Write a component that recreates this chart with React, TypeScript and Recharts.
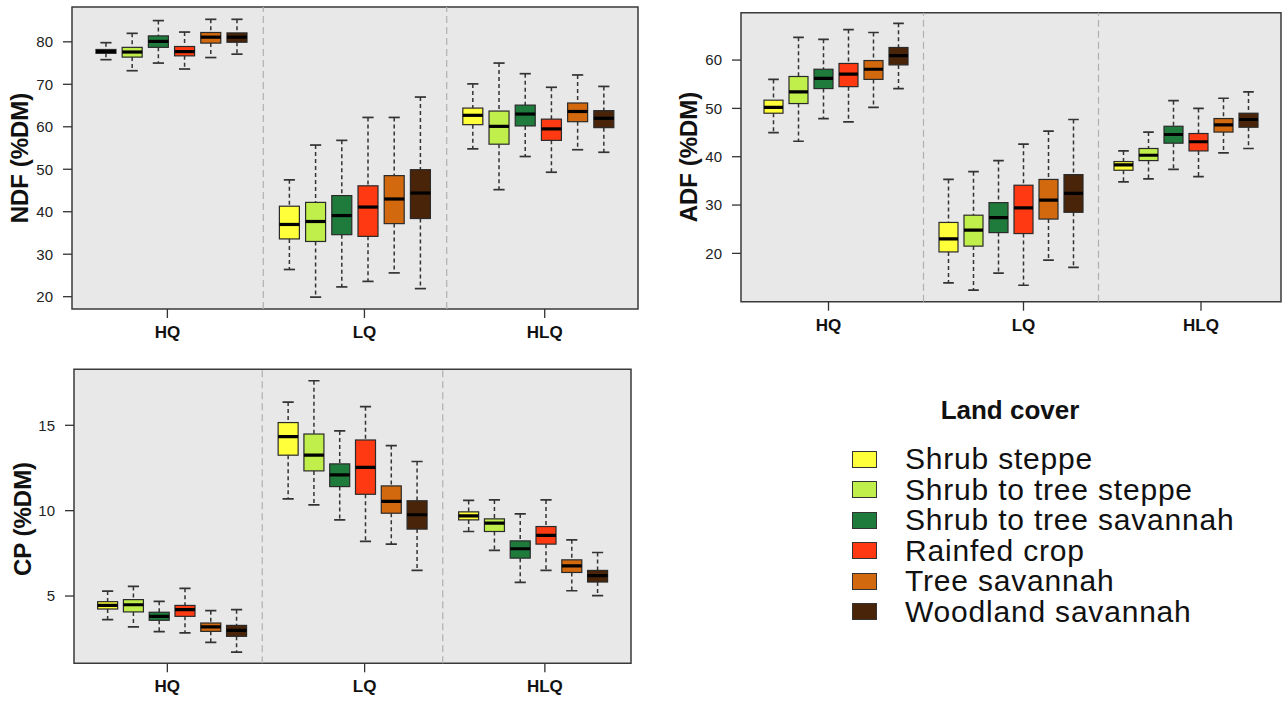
import { ComposedChart, Bar, XAxis, YAxis, CartesianGrid, ReferenceLine, ReferenceArea, Label } from "recharts";

const LAND_COVER = [
  "Shrub steppe",
  "Shrub to tree steppe",
  "Shrub to tree savannah",
  "Rainfed crop",
  "Tree savannah",
  "Woodland savannah",
];
const COLORS = ["#FFFF3A", "#C0EE4A", "#1E7B3C", "#FF3A12", "#D2690E", "#4A2408"];
const QUALITY = ["HQ", "LQ", "HLQ"];
const GROUP_POSITIONS = [
  [1, 2, 3, 4, 5, 6],
  [8, 9, 10, 11, 12, 13],
  [15, 16, 17, 18, 19, 20],
];
const DIVIDERS = [7, 14];

// each entry: [whisker low, q1, median, q3, whisker high], one per land cover
const NDF_HQ = [
  [75.8, 77.3, 77.7, 78.2, 79.8],
  [73.2, 76.4, 77.6, 78.7, 82.0],
  [75.0, 78.7, 80.1, 81.4, 85.0],
  [73.6, 76.7, 77.7, 78.9, 82.3],
  [76.3, 79.7, 81.1, 82.2, 85.3],
  [77.1, 79.9, 81.1, 82.1, 85.3],
];
const NDF_LQ = [
  [26.4, 33.6, 37.0, 41.3, 47.5],
  [19.9, 33.0, 37.7, 42.2, 55.7],
  [22.3, 34.6, 39.1, 43.8, 56.8],
  [23.6, 34.2, 41.1, 46.1, 62.2],
  [25.6, 37.2, 43.0, 48.5, 62.2],
  [21.9, 38.4, 44.4, 49.9, 67.0],
];
const NDF_HLQ = [
  [54.8, 60.5, 62.7, 64.4, 70.1],
  [45.2, 55.9, 60.1, 63.7, 75.0],
  [53.0, 60.2, 63.0, 65.1, 72.5],
  [49.3, 56.8, 59.5, 61.8, 69.3],
  [54.6, 61.2, 63.6, 65.6, 72.2],
  [54.0, 59.8, 62.0, 63.8, 69.5],
];

const ADF_HQ = [
  [45.0, 49.0, 50.2, 51.7, 56.0],
  [43.2, 51.0, 53.4, 56.6, 64.7],
  [47.9, 54.1, 56.2, 58.1, 64.3],
  [47.2, 54.5, 57.1, 59.3, 66.3],
  [50.2, 56.0, 58.1, 59.9, 65.7],
  [54.1, 59.0, 60.9, 62.6, 67.6],
];
const ADF_LQ = [
  [13.9, 20.3, 23.0, 26.4, 35.3],
  [12.4, 21.5, 24.8, 27.9, 36.9],
  [15.9, 24.3, 27.4, 30.5, 39.2],
  [13.4, 24.1, 29.4, 34.1, 42.6],
  [18.6, 27.1, 31.0, 35.3, 45.3],
  [17.1, 28.5, 32.4, 36.3, 47.7],
];
const ADF_HLQ = [
  [34.8, 37.2, 38.3, 39.0, 41.2],
  [35.4, 39.2, 40.3, 41.7, 45.1],
  [37.4, 42.8, 44.6, 46.3, 51.6],
  [35.9, 41.2, 43.1, 44.8, 50.0],
  [40.8, 45.1, 46.6, 47.9, 52.1],
  [41.7, 46.1, 47.7, 49.0, 53.4],
];

const CP_HQ = [
  [3.62, 4.24, 4.45, 4.67, 5.29],
  [3.19, 4.07, 4.49, 4.79, 5.56],
  [2.92, 3.58, 3.81, 4.05, 4.69],
  [2.84, 3.81, 4.2, 4.45, 5.45],
  [2.29, 2.93, 3.19, 3.42, 4.14],
  [1.72, 2.64, 2.99, 3.28, 4.2],
];
const CP_LQ = [
  [10.69, 13.25, 14.34, 15.16, 16.36],
  [10.34, 12.33, 13.25, 14.49, 17.61],
  [9.46, 11.41, 12.1, 12.74, 14.67],
  [8.2, 10.96, 12.54, 14.14, 16.09],
  [8.04, 9.85, 10.54, 11.45, 13.81],
  [6.5, 8.92, 9.76, 10.58, 12.88],
];
const CP_HLQ = [
  [8.78, 9.46, 9.7, 9.93, 10.6],
  [7.67, 8.78, 9.27, 9.52, 10.63],
  [5.8, 7.22, 7.77, 8.23, 9.81],
  [6.5, 8.04, 8.55, 9.07, 10.63],
  [5.31, 6.38, 6.77, 7.12, 8.29],
  [5.02, 5.82, 6.19, 6.5, 7.55],
];

const NDF_TICKS = [20, 30, 40, 50, 60, 70, 80];
const ADF_TICKS = [20, 30, 40, 50, 60];
const CP_TICKS = [5, 10, 15];

const X_DOMAIN: [number, number] = [-0.3, 21.3];
const FONT = "'Liberation Sans', Arial, sans-serif";

function buildRows(groups: number[][][]) {
  const rows: any[] = [];
  groups.forEach((group, g) => {
    group.forEach((s, i) => {
      rows.push({
        pos: GROUP_POSITIONS[g][i],
        lo: s[0], q1: s[1], med: s[2], q3: s[3], hi: s[4],
        color: COLORS[i],
      });
    });
  });
  return rows;
}

function BoxShape(props: any) {
  const { x, y, width, height, payload } = props;
  if (!payload) return null;
  const { lo, q1, med, q3, hi, color } = payload;
  const top = Math.min(y, y + height);
  const k = Math.abs(height) / (hi - lo);
  const py = (v: number) => top + (hi - v) * k;
  const cx = x + width / 2;
  const cap = width * 0.28;
  return (
    <g>
      <line x1={cx} x2={cx} y1={py(hi)} y2={py(q3)} stroke="#333" strokeWidth={1.5} strokeDasharray="4 3" />
      <line x1={cx} x2={cx} y1={py(q1)} y2={py(lo)} stroke="#333" strokeWidth={1.5} strokeDasharray="4 3" />
      <line x1={cx - cap} x2={cx + cap} y1={py(hi)} y2={py(hi)} stroke="#333" strokeWidth={1.7} />
      <line x1={cx - cap} x2={cx + cap} y1={py(lo)} y2={py(lo)} stroke="#333" strokeWidth={1.7} />
      <rect x={x} y={py(q3)} width={width} height={py(q1) - py(q3)} fill={color} stroke="#2a2a2a" strokeWidth={1.2} />
      <line x1={x} x2={x + width} y1={py(med)} y2={py(med)} stroke="#000" strokeWidth={3.2} />
    </g>
  );
}

interface PanelProps {
  left: number; top: number; width: number; height: number;
  plotLeft: number; plotRight: number; plotTop: number; plotBottom: number;
  domain: [number, number];
  yTicks: number[];
  xTicks: number[];
  title: string;
  titleX: number; titleY: number;
  rows: any[];
}

function Panel(p: PanelProps) {
  const unit = (p.plotRight - p.plotLeft) / (X_DOMAIN[1] - X_DOMAIN[0]);
  const tickStyle = { fontSize: 15, fill: "#222", fontFamily: FONT };
  return (
    <div style={{ position: "absolute", left: p.left, top: p.top }}>
      <ComposedChart
        width={p.width}
        height={p.height}
        data={p.rows}
        margin={{ top: p.plotTop, right: p.width - p.plotRight, bottom: 0, left: 0 }}
      >
        <CartesianGrid fill="#e8e8e8" horizontal={false} vertical={false} />
        <XAxis
          type="number" dataKey="pos" domain={X_DOMAIN} allowDataOverflow
          ticks={p.xTicks} tickFormatter={(v: number, i: number) => QUALITY[i] ?? ""}
          height={p.height - p.plotBottom} axisLine={false}
          tickLine={{ stroke: "#333", strokeWidth: 1.3 }} tickSize={9} tickMargin={8}
          tick={{ fontSize: 17, fontWeight: "bold", fill: "#111", fontFamily: FONT }}
          interval={0}
        />
        <YAxis
          type="number" domain={p.domain} allowDataOverflow ticks={p.yTicks}
          width={p.plotLeft} axisLine={false}
          tickLine={{ stroke: "#333", strokeWidth: 1.3 }} tickSize={9} tickMargin={10}
          tick={tickStyle} interval={0}
        >
          <Label
            content={() => (
              <text
                x={p.titleX} y={p.titleY}
                transform={`rotate(-90, ${p.titleX}, ${p.titleY})`}
                textAnchor="middle" dominantBaseline="central"
                fontSize={24} fontWeight="bold" fontFamily={FONT} fill="#111"
              >
                {p.title}
              </text>
            )}
          />
        </YAxis>
        {DIVIDERS.map((d) => (
          <ReferenceLine key={d} x={d} stroke="#b0b0b0" strokeWidth={1.2} strokeDasharray="7 4" />
        ))}
        <Bar
          dataKey={(d: any) => [d.lo, d.hi]}
          barSize={Math.round(unit * 0.76)}
          shape={<BoxShape />}
          isAnimationActive={false}
        />
        <ReferenceArea
          x1={X_DOMAIN[0]} x2={X_DOMAIN[1]} y1={p.domain[0]} y2={p.domain[1]}
          fill="none" stroke="#3a3a3a" strokeWidth={1.5} ifOverflow="extendDomain"
        />
      </ComposedChart>
    </div>
  );
}

function LandCoverLegend() {
  return (
    <>
      <div style={{
        position: "absolute", left: 900, top: 395, width: 220, textAlign: "center",
        fontSize: 26, fontWeight: "bold", lineHeight: "30px", fontFamily: FONT, color: "#111",
      }}>
        Land cover
      </div>
      <div style={{ position: "absolute", left: 852, top: 444 }}>
        {LAND_COVER.map((name, i) => (
          <div key={name} style={{ display: "flex", alignItems: "center", height: 30.5 }}>
            <div style={{
              width: 23, height: 15, background: COLORS[i], border: "1px solid #333", flexShrink: 0,
            }} />
            <span style={{
              marginLeft: 28, fontSize: 30, lineHeight: "30.5px", fontFamily: FONT,
              color: "#111", letterSpacing: 0.8, whiteSpace: "nowrap",
            }}>
              {name}
            </span>
          </div>
        ))}
      </div>
    </>
  );
}

export default function App() {
  const ndfRows = buildRows([NDF_HQ, NDF_LQ, NDF_HLQ]);
  const adfRows = buildRows([ADF_HQ, ADF_LQ, ADF_HLQ]);
  const cpRows = buildRows([CP_HQ, CP_LQ, CP_HLQ]);

  return (
    <div style={{ position: "absolute", left: 0, top: 0, width: 1285, height: 702, background: "#fff", overflow: "hidden" }}>
      <Panel
        left={0} top={0} width={660} height={350}
        plotLeft={72} plotRight={638} plotTop={7} plotBottom={309}
        domain={[17.1, 88.2]} yTicks={NDF_TICKS} xTicks={[3.34, 10.86, 17.74]}
        title="NDF (%DM)" titleX={19} titleY={158} rows={ndfRows}
      />
      <Panel
        left={660} top={0} width={625} height={345}
        plotLeft={81} plotRight={621} plotTop={12.7} plotBottom={301.7}
        domain={[10.0, 69.8]} yTicks={ADF_TICKS} xTicks={[3.2, 11.0, 18.1]}
        title="ADF (%DM)" titleX={28} titleY={157} rows={adfRows}
      />
      <Panel
        left={0} top={355} width={660} height={345}
        plotLeft={74} plotRight={631} plotTop={14.3} plotBottom={308.3}
        domain={[1.06, 18.28]} yTicks={CP_TICKS} xTicks={[3.32, 10.97, 17.96]}
        title="CP (%DM)" titleX={22} titleY={164} rows={cpRows}
      />
      <LandCoverLegend />
    </div>
  );
}
